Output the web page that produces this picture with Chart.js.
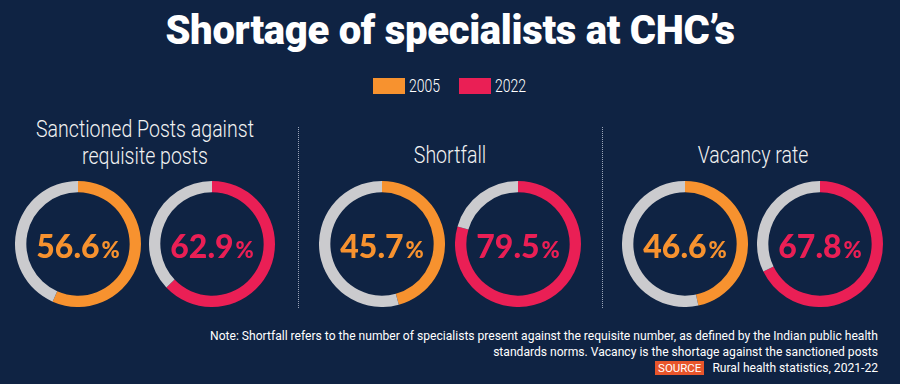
<!DOCTYPE html>
<html>
<head>
<meta charset="utf-8">
<script src="https://cdn.jsdelivr.net/npm/chart.js"></script>
<style>
  html, body { margin: 0; padding: 0; background: #0f2343; }
  #wrap { position: relative; width: 900px; height: 384px; overflow: hidden; background: #0f2343; color: #fff; }
  .abs { position: absolute; }
  #title { left: 0; width: 900px; top: 7px; text-align: center; font: 900 40px Roboto, sans-serif; letter-spacing: -0.3px; }
  .legend { top: 75px; font: 300 18px Roboto, sans-serif; display: flex; align-items: center; }
  .legend span.sw { display: inline-block; width: 32px; height: 16px; margin-right: 4px; }
  .legend span.tx { display: inline-block; transform: scaleX(0.78); transform-origin: left center; }
  .ptitle { font: 300 23px Roboto, sans-serif; text-align: center; line-height: 27px; color: #f2f2f2; transform: scaleX(0.85); }
  .sep { top: 127px; height: 181px; width: 0; border-left: 1.5px dotted #9aa4b8; }
  .note { right: 22px; font: 12.1px Roboto, sans-serif; color: #fff; text-align: right; line-height: 15.5px; }
  .src { background: #e8552b; color: #fff; padding: 0 3px; margin-right: 5px; font-size: 11.5px; }
  canvas { position: absolute; }
</style>
</head>
<body>
<div id="wrap">
  <div id="title" class="abs">Shortage of specialists at CHC’s</div>
  <div class="abs legend" style="left:373px"><span class="sw" style="background:#f7922f"></span><span class="tx" id="lg0"></span></div>
  <div class="abs legend" style="left:459px"><span class="sw" style="background:#ea1f55"></span><span class="tx" id="lg1"></span></div>
  <div class="abs sep" style="left:298px"></div>
  <div class="abs sep" style="left:602px"></div>
  <div class="abs note" style="top:329px">Note: Shortfall refers to the number of specialists present against the requisite number, as defined by the Indian public health<br>standards norms. Vacancy is the shortage against the sanctioned posts</div>
  <div class="abs note" style="top:361px"><span class="src">SOURCE</span> Rural health statistics, 2021-22</div>
</div>
<script>
  const groups = [["Sanctioned Posts against", "requisite posts"], ["Shortfall"], ["Vacancy rate"]];
  const years = ["2005", "2022"];
  const values2005 = [56.6, 45.7, 46.6];
  const values2022 = [62.9, 79.5, 67.8];

  const yearColors = ["#f7922f", "#ea1f55"];
  const restColor = "#cbcbce";
  const centers = [[78, 212], [382, 518], [685, 820]];
  const cy = 244;
  const R = 63;

  const wrap = document.getElementById("wrap");
  document.getElementById("lg0").textContent = years[0];
  document.getElementById("lg1").textContent = years[1];

  const numFont = "900 32px Lato, sans-serif";
  const pctFont = "900 22px Lato, sans-serif";

  const centerText = {
    id: "centerText",
    afterDraw(chart) {
      const ctx = chart.ctx;
      const v = chart.data.datasets[0].data[0];
      const col = chart.data.datasets[0].backgroundColor[0];
      const a = chart.getDatasetMeta(0).data[0];
      const num = v.toFixed(1);
      ctx.save();
      ctx.fillStyle = col;
      ctx.textBaseline = "alphabetic";
      ctx.font = numFont;
      const w1 = ctx.measureText(num).width;
      ctx.font = pctFont;
      const w2 = ctx.measureText("%").width;
      const gap = 2;
      const x0 = a.x - (w1 + gap + w2) / 2;
      const base = a.y + 14;
      ctx.font = numFont;
      ctx.fillText(num, x0, base);
      ctx.font = pctFont;
      ctx.fillText("%", x0 + w1 + gap, base);
      ctx.restore();
    }
  };

  groups.forEach((g, i) => {
    const midX = (centers[i][0] + centers[i][1]) / 2;
    const t = document.createElement("div");
    t.className = "abs ptitle";
    t.style.left = (midX - 150) + "px";
    t.style.width = "300px";
    t.style.top = (g.length > 1 ? 116 : 142) + "px";
    t.innerHTML = g.join("<br>");
    wrap.appendChild(t);

    [values2005[i], values2022[i]].forEach((v, j) => {
      const c = document.createElement("canvas");
      c.width = R * 2;
      c.height = R * 2;
      c.style.left = (centers[i][j] - R) + "px";
      c.style.top = (cy - R) + "px";
      c.style.width = R * 2 + "px";
      c.style.height = R * 2 + "px";
      wrap.appendChild(c);
      new Chart(c, {
        type: "doughnut",
        data: {
          labels: [years[j], "Rest"],
          datasets: [{
            data: [v, +(100 - v).toFixed(1)],
            backgroundColor: [yearColors[j], restColor],
            borderWidth: 0,
          }],
        },
        options: {
          responsive: false,
          animation: false,
          cutout: "82%",
          layout: { padding: 0 },
          plugins: { legend: { display: false }, tooltip: { enabled: false } },
        },
        plugins: [centerText],
      });
    });
  });
</script>
</body>
</html>
